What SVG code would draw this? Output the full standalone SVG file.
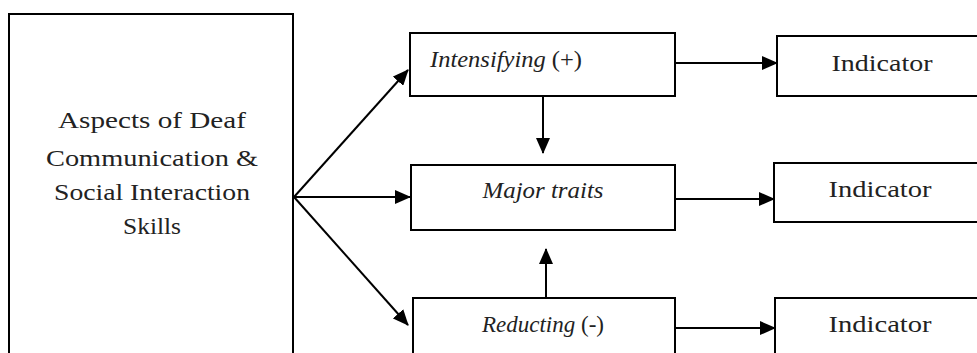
<svg xmlns="http://www.w3.org/2000/svg" width="977" height="353" viewBox="0 0 977 353">
  <style>
    .box { fill: #ffffff; stroke: #000000; stroke-width: 2; }
    .lbl { font-family: "Liberation Serif", "Times New Roman", serif; font-size: 23px; fill: #222222; }
    .it { font-style: italic; }
    .edge { stroke: #000000; stroke-width: 2; fill: none; marker-end: url(#arrow); }
  </style>
  <defs>
    <marker id="arrow" markerUnits="userSpaceOnUse" markerWidth="16" markerHeight="14" refX="15" refY="7" orient="auto">
      <path d="M0,0 L16,7 L0,14 Z" fill="#000000"/>
    </marker>
  </defs>
  <rect width="977" height="353" fill="#ffffff"/>

  <g id="aspects">
    <rect class="box" x="9" y="14" width="284" height="350"/>
    <text class="lbl" x="152" y="128" text-anchor="middle" textLength="188" lengthAdjust="spacingAndGlyphs">Aspects of Deaf</text>
    <text class="lbl" x="152" y="166" text-anchor="middle" textLength="212" lengthAdjust="spacingAndGlyphs">Communication &amp;</text>
    <text class="lbl" x="152" y="200" text-anchor="middle" textLength="196" lengthAdjust="spacingAndGlyphs">Social Interaction</text>
    <text class="lbl" x="152" y="234" text-anchor="middle" textLength="58" lengthAdjust="spacingAndGlyphs">Skills</text>
  </g>

  <g id="intensifying">
    <rect class="box" x="410" y="33" width="265" height="63"/>
    <text class="lbl" x="430" y="67" textLength="152" lengthAdjust="spacingAndGlyphs"><tspan class="it">Intensifying</tspan> (+)</text>
  </g>

  <g id="major-traits">
    <rect class="box" x="411" y="165" width="264" height="65"/>
    <text class="lbl it" x="543" y="198" text-anchor="middle" textLength="121" lengthAdjust="spacingAndGlyphs">Major traits</text>
  </g>

  <g id="reducting">
    <rect class="box" x="413" y="298" width="262" height="70"/>
    <text class="lbl" x="543" y="332" text-anchor="middle"><tspan class="it">Reducting</tspan> (-)</text>
  </g>

  <g id="indicator-1">
    <rect class="box" x="777" y="36" width="210" height="60"/>
    <text class="lbl" x="882" y="71" text-anchor="middle" textLength="101" lengthAdjust="spacingAndGlyphs">Indicator</text>
  </g>

  <g id="indicator-2">
    <rect class="box" x="774" y="163" width="213" height="59"/>
    <text class="lbl" x="880" y="197" text-anchor="middle" textLength="103" lengthAdjust="spacingAndGlyphs">Indicator</text>
  </g>

  <g id="indicator-3">
    <rect class="box" x="775" y="298" width="212" height="70"/>
    <text class="lbl" x="880" y="332" text-anchor="middle" textLength="103" lengthAdjust="spacingAndGlyphs">Indicator</text>
  </g>

  <g id="connectors">
    <line class="edge" x1="294" y1="197" x2="408" y2="70"/>
    <line class="edge" x1="294" y1="197" x2="410" y2="197"/>
    <line class="edge" x1="294" y1="197" x2="408" y2="325"/>
    <line class="edge" x1="543" y1="96" x2="543" y2="153"/>
    <line class="edge" x1="546" y1="298" x2="546" y2="249"/>
    <line class="edge" x1="675" y1="63" x2="777" y2="63"/>
    <line class="edge" x1="675" y1="199" x2="774" y2="199"/>
    <line class="edge" x1="675" y1="328" x2="775" y2="328"/>
  </g>
</svg>
